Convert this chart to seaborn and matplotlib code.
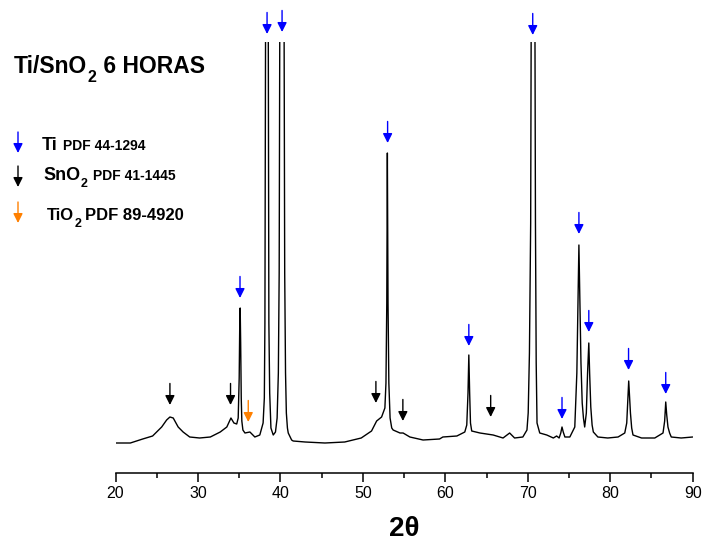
import matplotlib
matplotlib.use("Agg")
import matplotlib.pyplot as plt
from matplotlib.patches import FancyArrowPatch
from matplotlib.ticker import MultipleLocator
import seaborn as sns
import pandas as pd

# ---------------- data ----------------
two_theta = [20.0, 20.6, 21.8, 23.3, 24.5, 25.6, 26.2, 26.6, 27.0, 27.6, 28.2, 29.0,
             30.2, 31.5, 32.7, 33.5, 34.0, 34.36, 34.7, 34.88, 35.0, 35.07, 35.12,
             35.18, 35.25, 35.32, 35.45, 35.7, 36.3, 36.9, 37.5, 37.9, 38.05, 38.12,
             38.24, 38.49, 38.6, 38.7, 38.85, 39.13, 39.4, 39.6, 39.75, 39.85, 39.97,
             40.4, 40.52, 40.62, 40.72, 40.85, 40.95, 41.36, 41.55, 43.0, 45.4, 47.8,
             49.8, 51.05, 51.67, 52.27, 52.67, 52.8, 52.9, 52.97, 53.05, 53.15, 53.3,
             53.5, 53.67, 54.5, 54.88, 55.7, 57.3, 59.3, 59.7, 61.4, 62.36, 62.6, 62.75,
             62.85, 62.95, 63.05, 63.2, 64.2, 65.8, 67.0, 67.8, 68.4, 69.4, 69.9, 70.05,
             70.2, 70.35, 70.46, 70.82, 70.93, 71.02, 71.12, 71.45, 72.3, 73.1, 73.5,
             73.8, 74.0, 74.15, 74.3, 74.5, 75.1, 75.7, 75.95, 76.1, 76.2, 76.3, 76.45,
             76.6, 76.75, 76.9, 77.1, 77.25, 77.4, 77.5, 77.64, 77.8, 77.95, 78.5, 79.7,
             80.95, 81.76, 82.0, 82.15, 82.24, 82.35, 82.45, 82.6, 82.76, 83.8, 85.4,
             86.4, 86.6, 86.73, 86.85, 87.0, 87.2, 87.4, 88.6, 90.0]
intensity = [30, 30, 30, 34, 37, 46, 53, 56, 55, 46, 41, 36,
             35, 36, 41, 46, 55, 50, 49, 55, 95, 150, 165,
             130, 75, 52, 43, 40, 41, 36, 38, 50, 75, 150,
             600, 600, 150, 80, 45, 38, 41, 55, 100, 200, 600,
             600, 200, 100, 60, 45, 40, 33, 32, 31, 30, 31,
             35, 42, 52, 56, 65, 90, 170, 320, 170, 90, 55,
             45, 43, 40, 40, 36, 33, 34, 36, 37, 41, 48, 80,
             118, 80, 50, 42, 40, 38, 35, 40, 35, 36, 43, 60,
             120, 250, 600, 600, 250, 110, 50, 40, 38, 35, 37,
             35, 40, 46, 41, 36, 36, 46, 100, 180, 228, 180, 110,
             70, 55, 46, 60, 100, 130, 100, 66, 48, 41, 36, 35,
             36, 40, 50, 75, 92, 75, 60, 45, 38, 35, 35,
             40, 52, 71, 58, 46, 40, 36, 35, 36]

# reference-pattern markers (peak position, intensity at arrow tip)
ti_pos = [35.1, 38.38, 40.2, 53.0, 62.85, 70.6, 74.15, 76.2, 77.4, 82.22, 86.73]
ti_tip = [175, 439, 441, 330, 127, 438, 54, 239, 141, 103, 79]
sno2_pos = [26.6, 33.95, 51.58, 54.85, 65.5]
sno2_tip = [68, 68, 70, 52, 56]
tio2_pos = [36.1]
tio2_tip = [51]

# text pieces: (main, subscript, rest)
title_parts = ("Ti/SnO", "2", " 6 HORAS")
legend_main = ["Ti", "SnO", "TiO"]
legend_sub = ["", "2", "2"]
legend_pdf = ["PDF 44-1294", "PDF 41-1445", "PDF 89-4920"]

BLUE = "#0000FF"
BLACK = "#000000"
ORANGE = "#FF8000"

# ---------------- style ----------------
sns.set_theme(style="white")
plt.rcParams["font.family"] = ["Liberation Sans", "DejaVu Sans"]

W, H = 706, 543
fig = plt.figure(figsize=(W / 100, H / 100), dpi=100)
ax = fig.add_axes([115.5 / W, 70 / H, (692.7 - 115.5) / W, (473 - 42) / H])

df = pd.DataFrame({"two_theta": two_theta, "intensity": intensity})
sns.lineplot(data=df, x="two_theta", y="intensity", color="black", lw=1.0, ax=ax)

ax.set_xlim(20, 90)
ax.set_ylim(0, 431)
ax.set_yticks([])
ax.set_ylabel("")
ax.xaxis.set_major_locator(MultipleLocator(10))
ax.xaxis.set_minor_locator(MultipleLocator(5))
ax.tick_params(axis="x", which="both", bottom=True, direction="out", colors="black")
ax.tick_params(axis="x", which="major", length=6.5, width=1.1, labelsize=11.5, pad=2.5)
ax.tick_params(axis="x", which="minor", length=3.5, width=1.1)
for s in ["left", "top", "right"]:
    ax.spines[s].set_visible(False)
ax.spines["bottom"].set_linewidth(1.1)
ax.spines["bottom"].set_color("black")
ax.grid(False)

ax.set_xlabel("2θ", fontsize=20, fontweight="bold", color="black", labelpad=11)

arrow_kw = dict(arrowstyle="-|>", lw=1.0, mutation_scale=14, shrinkA=0, shrinkB=0)


def draw_arrows(xs, tips, color):
    for x, t in zip(xs, tips):
        ax.annotate("", xy=(x, t), xytext=(0, 15.5), textcoords="offset points",
                    arrowprops=dict(color=color, **arrow_kw), annotation_clip=False)


draw_arrows(ti_pos, ti_tip, BLUE)
draw_arrows(sno2_pos, sno2_tip, BLACK)
draw_arrows(tio2_pos, tio2_tip, ORANGE)

# ---------------- title & legend (figure pixels) ----------------
renderer = fig.canvas.get_renderer()


def ftext(x, y, s, size):
    t = fig.text(x / W, 1 - y / H, s, fontsize=size, fontweight="bold", color="black",
                 ha="left", va="baseline")
    return t.get_window_extent(renderer).x1  # right edge in pixels


def sub_text(x, y, main, sub, size, sub_size, drop):
    x1 = ftext(x, y, main, size)
    if sub:
        x1 = ftext(x1 + 0.5, y + drop, sub, sub_size)
    return x1


x_end = sub_text(14, 73, title_parts[0], title_parts[1], 16.5, 11.5, 9)
ftext(x_end, 73, title_parts[2], 16.5)

leg_colors = [BLUE, BLACK, ORANGE]
leg_arrow_y = [(132, 153), (166, 187), (202, 223)]
leg_label_x = [42, 43, 47]
leg_pdf_x = [63, 93, 85]
leg_base_y = [150, 180, 220]
leg_label_size = [13, 13, 12]
leg_pdf_size = [10, 10, 12]
for i in range(3):
    y0, y1 = leg_arrow_y[i]
    fig.add_artist(FancyArrowPatch(
        (18 / W, 1 - y0 / H), (18 / W, 1 - y1 / H), transform=fig.transFigure,
        color=leg_colors[i], **arrow_kw))
    sub_text(leg_label_x[i], leg_base_y[i], legend_main[i], legend_sub[i],
             leg_label_size[i], 9, 7)
    ftext(leg_pdf_x[i], leg_base_y[i], legend_pdf[i], leg_pdf_size[i])

fig.savefig("out.png", dpi=100)
